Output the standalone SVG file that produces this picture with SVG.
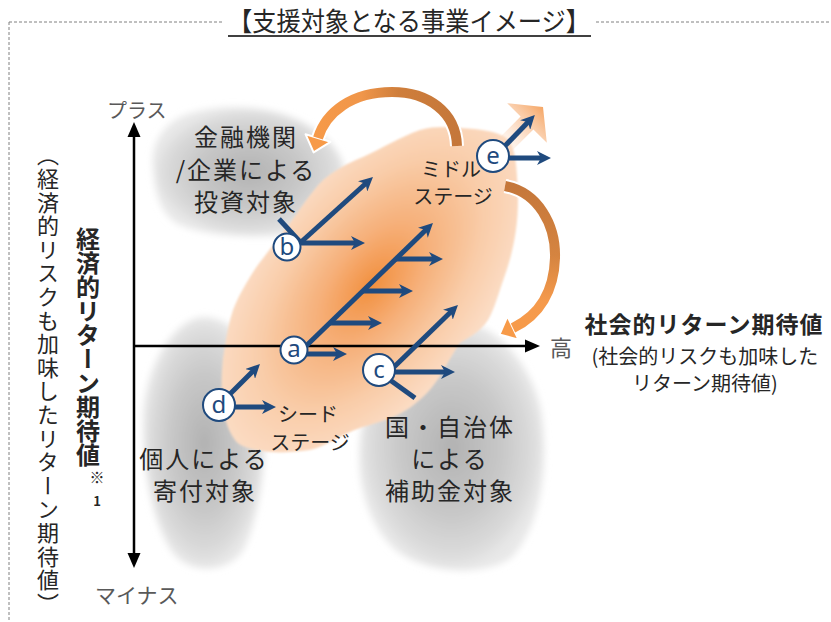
<svg xmlns="http://www.w3.org/2000/svg" width="831" height="622" viewBox="0 0 831 622">
<style>
.jp{font-family:'Noto Sans CJK JP','Noto Sans',sans-serif;fill:#262626}
.lbl{font-size:24px;letter-spacing:2px;text-anchor:middle}
.stg{font-size:20px;text-anchor:middle}
.gr{fill:#595959}
.blue{stroke:#1F4A7E;stroke-width:5;fill:none}
.circ{fill:#ffffff;stroke:#1F4A7E;stroke-width:2}
.let{font-family:'Noto Sans','DejaVu Sans',sans-serif;font-size:24px;fill:#1F4A7E;text-anchor:middle}
.axis{stroke:#000;stroke-width:2.5;fill:none}
</style>
<defs>
  <radialGradient id="gg" cx="0.5" cy="0.5" r="0.5">
    <stop offset="0" stop-color="#B2B2B2"/>
    <stop offset="0.55" stop-color="#C8C8C8"/>
    <stop offset="0.85" stop-color="#DADADA"/>
    <stop offset="1" stop-color="#E8E8E8"/>
  </radialGradient>
  <radialGradient id="og" gradientUnits="userSpaceOnUse" cx="0" cy="0" r="1" gradientTransform="translate(372 285) rotate(-52) scale(210 112)">
    <stop offset="0" stop-color="#F2903F"/>
    <stop offset="0.35" stop-color="#F6B07A"/>
    <stop offset="0.7" stop-color="#F9CCA8"/>
    <stop offset="1" stop-color="#FBDCC4"/>
  </radialGradient>
  <linearGradient id="topArc" gradientUnits="userSpaceOnUse" x1="457" y1="0" x2="310" y2="0">
    <stop offset="0" stop-color="#C5773A"/>
    <stop offset="0.4" stop-color="#CF7E3B"/>
    <stop offset="0.65" stop-color="#F0964A"/>
    <stop offset="1" stop-color="#F79A48"/>
  </linearGradient>
  <linearGradient id="rightArc" gradientUnits="userSpaceOnUse" x1="0" y1="186" x2="0" y2="340">
    <stop offset="0" stop-color="#C5773A"/>
    <stop offset="0.45" stop-color="#D58440"/>
    <stop offset="0.75" stop-color="#F59A4C"/>
    <stop offset="1" stop-color="#F79A48"/>
  </linearGradient>
  <linearGradient id="fade" gradientUnits="userSpaceOnUse" x1="500" y1="150" x2="543" y2="107">
    <stop offset="0" stop-color="#FBDCC4" stop-opacity="0"/>
    <stop offset="0.5" stop-color="#FAD0B0" stop-opacity="0.75"/>
    <stop offset="1" stop-color="#F5A665"/>
  </linearGradient>
  <filter id="soft" x="-20%" y="-20%" width="140%" height="140%"><feGaussianBlur stdDeviation="3.5"/></filter>
  <filter id="soft2" x="-10%" y="-10%" width="120%" height="120%"><feGaussianBlur stdDeviation="1"/></filter>
  <marker id="ah" viewBox="0 0 14 14" markerWidth="14" markerHeight="14" markerUnits="userSpaceOnUse" refX="5" refY="7" orient="auto">
    <path d="M0,0 L14,7 L0,14 L4,7 Z" fill="#1F4A7E"/>
  </marker>
</defs>

<rect width="831" height="622" fill="#ffffff"/>

<g id="frame">
  <path d="M9,22 H222 M596,22 H831 M9,22 V622" stroke="#808080" stroke-width="1" stroke-dasharray="3 2" fill="none"/>
</g>
<g id="title">
  <text class="jp" x="409" y="31" font-size="26" text-anchor="middle" textLength="362" lengthAdjust="spacingAndGlyphs" fill="#000">【支援対象となる事業イメージ】</text>
  <line x1="228" y1="36" x2="591" y2="36" stroke="#000" stroke-width="1.5"/>
</g>

<g id="blob-finance">
  <path d="M153,167 C150,140 168,118 195,112 C222,105 268,104 302,122 C328,136 347,155 345,180 C343,206 330,226 300,233 C268,239 208,238 178,224 C158,212 155,190 153,167 Z" fill="url(#gg)" filter="url(#soft)"/>
</g>
<g id="blob-individual">
  <path d="M205,317 C237,319 262,352 265,400 C268,452 260,522 242,552 C226,574 188,574 172,552 C152,522 143,470 143,420 C143,368 174,317 205,317 Z" fill="url(#gg)" filter="url(#soft)"/>
</g>
<g id="blob-government">
  <path d="M470,324 C502,329 533,370 541,410 C549,462 543,522 512,557 C486,577 428,574 398,552 C367,527 356,480 360,440 C364,394 398,358 428,338 C444,328 458,324 470,324 Z" fill="url(#gg)" filter="url(#soft)"/>
</g>

<g id="blob-stage">
  <path d="M222,395 C221,380 222,370 223,358 C226,340 228,325 233,310 C239,295 244,287 250,277 C256,267 261,261 267,253 C275,243 282,233 290,223 C300,210 310,193 323,180 C335,170 348,163 363,157 C383,148 400,137 420,130 C435,126 448,127 460,128 C480,129 495,131 505,137 C515,145 517,160 518,200 C518,230 512,255 505,275 C498,295 494,310 488,320 C480,332 470,337 460,343 C448,360 440,380 427,393 C415,405 405,412 393,417 C380,422 370,425 360,428 C340,435 325,447 310,450 C295,452 282,453 270,452 C252,450 240,447 235,440 C226,428 223,412 222,395 Z" fill="url(#og)" filter="url(#soft2)"/>
  <polygon points="493.6,143.6 520.6,116.6 507.2,103.2 543,107 546.8,142.8 533.4,129.4 506.4,156.4" fill="url(#fade)"/>
</g>

<g id="axes">
  <line class="axis" x1="134" y1="135" x2="134" y2="556"/>
  <polygon points="134,122 127.5,137 140.5,137" fill="#000"/>
  <polygon points="134,568 127.5,553 140.5,553" fill="#000"/>
  <line class="axis" x1="134" y1="346" x2="527" y2="346"/>
  <polygon points="540,346 525,339.5 525,352.5" fill="#000"/>
  <text class="jp gr" x="107" y="118" font-size="20">プラス</text>
  <text class="jp gr" x="95" y="603" font-size="21">マイナス</text>
  <text class="jp gr" x="550" y="356" font-size="22">高</text>
</g>

<g id="label-y">
  <text class="jp" x="48" y="144" font-size="22" letter-spacing="1.6" writing-mode="vertical-rl" fill="#000">（経済的リスクも加味したリターン期待値）</text>
  <text class="jp" x="88" y="227" font-size="24" font-weight="bold" writing-mode="vertical-rl" fill="#000">経済的リターン期待値</text>
  <text class="jp" x="97" y="483" font-size="15" text-anchor="middle" fill="#000">※</text>
  <text class="jp" x="97" y="506" font-size="13" font-weight="bold" text-anchor="middle" fill="#000">1</text>
</g>
<g id="label-x">
  <text class="jp" x="704" y="333" font-size="23" letter-spacing="1" font-weight="bold" text-anchor="middle" fill="#000">社会的リターン期待値</text>
  <text class="jp" x="705" y="364" font-size="20" text-anchor="middle" fill="#000">(社会的リスクも加味した</text>
  <text class="jp" x="705" y="391" font-size="20" text-anchor="middle" fill="#000">リターン期待値)</text>
</g>

<g id="connectors">
  <path d="M457,146 C456,112 428,92 392,92 C352,92 326,112 318,138" stroke="#fff" stroke-width="14" fill="none"/>
  <polygon points="330.5,141.8 305.5,134.2 313.6,152.4" fill="#F79A48" stroke="#fff" stroke-width="2" stroke-linejoin="round"/>
  <path d="M457,146 C456,112 428,92 392,92 C352,92 326,112 318,138" stroke="url(#topArc)" stroke-width="10" fill="none"/>
  <path d="M505,186 C538,192 556,225 555,258 C554,290 540,315 513,328" stroke="#fff" stroke-width="14" fill="none"/>
  <polygon points="518.6,339.7 507.4,316.3 499.5,334.5" fill="#F79A48" stroke="#fff" stroke-width="2" stroke-linejoin="round"/>
  <path d="M505,186 C538,192 556,225 555,258 C554,290 540,315 513,328" stroke="url(#rightArc)" stroke-width="10" fill="none"/>

  <line class="blue" x1="305" y1="347" x2="426.5" y2="229.3" marker-end="url(#ah)"/>
  <line class="blue" x1="306" y1="354" x2="338" y2="354" marker-end="url(#ah)"/>
  <line class="blue" x1="330" y1="323" x2="373" y2="323" marker-end="url(#ah)"/>
  <line class="blue" x1="363" y1="291" x2="404" y2="291" marker-end="url(#ah)"/>
  <line class="blue" x1="396" y1="259" x2="434" y2="259" marker-end="url(#ah)"/>

  <line class="blue" x1="279" y1="219" x2="302" y2="244"/>
  <line class="blue" x1="300" y1="243" x2="366.3" y2="183" marker-end="url(#ah)"/>
  <line class="blue" x1="300" y1="243" x2="356" y2="243" marker-end="url(#ah)"/>

  <line class="blue" x1="390" y1="380" x2="415" y2="398"/>
  <line class="blue" x1="394" y1="367" x2="451.5" y2="311.2" marker-end="url(#ah)"/>
  <line class="blue" x1="395" y1="372" x2="446" y2="372" marker-end="url(#ah)"/>

  <line class="blue" x1="228" y1="396" x2="253.6" y2="370.4" marker-end="url(#ah)"/>
  <line class="blue" x1="234" y1="407" x2="267" y2="407" marker-end="url(#ah)"/>

  <line class="blue" x1="503" y1="148" x2="528.6" y2="121.4" marker-end="url(#ah)"/>
  <line class="blue" x1="509" y1="158" x2="542" y2="158" marker-end="url(#ah)"/>
</g>

<g id="node-a">
  <circle class="circ" cx="294" cy="350" r="13.5"/>
  <text class="let" x="294" y="357">a</text>
</g>
<g id="node-b">
  <circle class="circ" cx="287" cy="247" r="13.5"/>
  <text class="let" x="287" y="255">b</text>
</g>
<g id="node-c">
  <circle class="circ" cx="379" cy="370" r="16"/>
  <text class="let" x="379" y="378">c</text>
</g>
<g id="node-d">
  <circle class="circ" cx="219" cy="405" r="16"/>
  <text class="let" x="219" y="413">d</text>
</g>
<g id="node-e">
  <circle class="circ" cx="493" cy="156" r="16"/>
  <text class="let" x="493" y="164">e</text>
</g>

<g id="label-finance">
  <text class="jp lbl" x="246" y="146">金融機関</text>
  <text class="jp lbl" x="246" y="179">/企業による</text>
  <text class="jp lbl" x="246" y="211">投資対象</text>
</g>
<g id="label-middle">
  <text class="jp stg" x="451" y="177">ミドル</text>
  <text class="jp stg" x="453" y="204">ステージ</text>
</g>
<g id="label-seed">
  <text class="jp stg" x="308" y="422">シード</text>
  <text class="jp stg" x="310" y="450">ステージ</text>
</g>
<g id="label-individual">
  <text class="jp lbl" x="204" y="468">個人による</text>
  <text class="jp lbl" x="205" y="500">寄付対象</text>
</g>
<g id="label-government">
  <text class="jp lbl" x="450" y="436">国・自治体</text>
  <text class="jp lbl" x="450" y="468">による</text>
  <text class="jp lbl" x="450" y="500">補助金対象</text>
</g>
</svg>
